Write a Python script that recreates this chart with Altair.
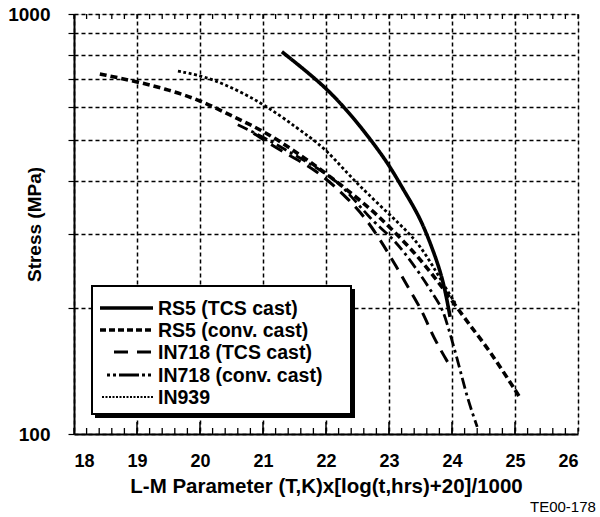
import altair as alt
import pandas as pd

# ---------------- data ----------------
series_names = ["RS5 (TCS cast)", "RS5 (conv. cast)", "IN718 (TCS cast)",
                "IN718 (conv. cast)", "IN939"]

rs5_tcs_x = [21.30, 21.96, 22.33, 22.59, 22.99, 23.23, 23.49, 23.70, 23.86, 23.97]
rs5_tcs_y = [813, 678, 590, 530, 441, 381, 329, 274, 233, 190]

rs5_conv_x = [18.41, 19.0, 19.5, 20.0, 20.5, 21.0, 21.5, 22.0, 22.7, 23.0, 23.5, 24.02, 24.3, 24.6, 25.08]
rs5_conv_y = [720, 690, 660, 624, 572, 528, 472, 418, 345, 312, 262, 206, 180, 158, 122]

in718_tcs_x = [20.85, 21.3, 21.86, 22.38, 22.65, 22.86, 23.10, 23.33, 23.54, 23.70, 23.97]
in718_tcs_y = [520, 470, 425, 360, 323, 290, 253, 220, 195, 170, 145]

in718_conv_x = [20.6, 21.0, 21.5, 22.0, 22.3, 22.7, 23.0, 23.22, 23.54, 23.7, 23.84, 23.93, 24.1, 24.24, 24.4]
in718_conv_y = [545, 510, 462, 418, 385, 325, 298, 274, 235, 215, 200, 182, 148, 122, 104]

in939_x = [19.65, 20.2, 21.0, 21.54, 21.94, 22.22, 22.46, 22.65, 22.97, 23.22, 23.49, 23.76, 23.92, 24.05]
in939_y = [731, 705, 614, 535, 485, 437, 400, 375, 337, 311, 282, 242, 220, 205]

x_ticks = [18, 19, 20, 21, 22, 23, 24, 25, 26]
y_ticks = [100, 200, 300, 400, 500, 600, 700, 800, 900, 1000]
minor_x_ticks = [round(18 + 0.2 * i, 1) for i in range(41)]

# ---------------- styles ----------------
dashes = {
    "RS5 (TCS cast)": [1, 0],
    "RS5 (conv. cast)": [7, 4],
    "IN718 (TCS cast)": [13, 8],
    "IN718 (conv. cast)": [11, 4, 3, 4],
    "IN939": [3, 2.5],
}
widths = {
    "RS5 (TCS cast)": 3.6,
    "RS5 (conv. cast)": 3.6,
    "IN718 (TCS cast)": 3.0,
    "IN718 (conv. cast)": 2.8,
    "IN939": 2.8,
}
legend_dash = {
    "RS5 (TCS cast)": [1, 0],
    "RS5 (conv. cast)": [6, 3],
    "IN718 (TCS cast)": [14, 9],
    "IN718 (conv. cast)": [3, 3, 3, 3, 20, 3],
    "IN939": [2, 1.5],
}
legend_width = {
    "RS5 (TCS cast)": 3.6,
    "RS5 (conv. cast)": 3.6,
    "IN718 (TCS cast)": 3.0,
    "IN718 (conv. cast)": 2.8,
    "IN939": 2.2,
}
legend_x1 = {"RS5 (TCS cast)": 26, "RS5 (conv. cast)": 26, "IN718 (TCS cast)": 40,
             "IN718 (conv. cast)": 33, "IN939": 28}

FONT = "Liberation Sans"

xs = [rs5_tcs_x, rs5_conv_x, in718_tcs_x, in718_conv_x, in939_x]
ys = [rs5_tcs_y, rs5_conv_y, in718_tcs_y, in718_conv_y, in939_y]

xscale = alt.Scale(domain=[18, 26], nice=False, zero=False)
yscale = alt.Scale(type="log", domain=[100, 1000], nice=False)

xaxis = alt.Axis(
    values=x_ticks, format="d", title="L-M Parameter (T,K)x[log(t,hrs)+20]/1000",
    grid=True, gridDash=[4, 3], gridColor="black", gridWidth=1.5, gridOpacity=1,
    ticks=False, tickSize=0, labelPadding=18, labelFontSize=18, labelFontWeight="bold",
    labelFont=FONT, labelColor="black", titleFont=FONT, titleFontSize=20.5,
    titleFontWeight="bold", titleColor="black", titleY=52, titleBaseline="middle",
    domainColor="black", domainWidth=2,
)
yaxis = alt.Axis(
    values=y_ticks, format="d", title="Stress (MPa)",
    labelExpr="(datum.value == 100 || datum.value == 1000) ? datum.label : ''",
    grid=True, gridDash=[4, 3], gridColor="black", gridWidth=1.5, gridOpacity=1,
    ticks=True, tickSize=6, tickColor="black", tickWidth=1.2, labelPadding=18,
    labelFontSize=19, labelFontWeight="bold", labelFont=FONT, labelColor="black",
    titleFont=FONT, titleFontSize=19, titleFontWeight="bold", titleColor="black",
    titleX=-40, titleY=210, titleAngle=270, titleAlign="center", titleBaseline="middle",
    domainColor="black", domainWidth=2,
)

layers = []
for name, sx, sy in zip(series_names, xs, ys):
    df = pd.DataFrame({"x": sx, "y": sy, "series": name})
    layers.append(
        alt.Chart(df).mark_line(
            color="black", strokeDash=dashes[name], strokeWidth=widths[name],
            interpolate="basis", strokeCap="butt"
        ).encode(
            x=alt.X("x:Q", scale=xscale, axis=xaxis),
            y=alt.Y("y:Q", scale=yscale, axis=yaxis),
        )
    )

# inner tick marks on bottom and top axes
tick_df = pd.DataFrame({"x": minor_x_ticks})
major_df = pd.DataFrame({"x": x_ticks[1:-1]})
layers.append(alt.Chart(tick_df).mark_rule(color="black", strokeWidth=1.3).encode(
    x=alt.X("x:Q", scale=xscale, axis=xaxis), y=alt.value(420), y2=alt.value(414)))
layers.append(alt.Chart(major_df).mark_rule(color="black", strokeWidth=1.5).encode(
    x=alt.X("x:Q", scale=xscale, axis=xaxis), y=alt.value(420), y2=alt.value(408)))
layers.append(alt.Chart(tick_df).mark_rule(color="black", strokeWidth=1.3).encode(
    x=alt.X("x:Q", scale=xscale, axis=xaxis), y=alt.value(0), y2=alt.value(5)))

one = pd.DataFrame({"a": [0]})

# legend box with heavy shadow edge
layers.append(alt.Chart(one).mark_rect(color="black").encode(
    x=alt.value(21), x2=alt.value(281), y=alt.value(275), y2=alt.value(404)))
layers.append(alt.Chart(one).mark_rect(fill="white", stroke="black", strokeWidth=2).encode(
    x=alt.value(18), x2=alt.value(277), y=alt.value(272), y2=alt.value(400)))

row_y = [294, 316, 338, 361, 383]
for name, ry in zip(series_names, row_y):
    layers.append(alt.Chart(one).mark_rule(
        color="black", strokeDash=legend_dash[name], strokeWidth=legend_width[name], strokeCap="butt"
    ).encode(x=alt.value(legend_x1[name]), x2=alt.value(79), y=alt.value(ry)))
    layers.append(alt.Chart(pd.DataFrame({"label": [name]})).mark_text(
        align="left", baseline="middle", font=FONT, fontSize=19.5, fontWeight="bold", color="black"
    ).encode(x=alt.value(84), y=alt.value(ry + 1), text="label:N"))

# figure code at bottom right
layers.append(alt.Chart(pd.DataFrame({"label": ["TE00-178"]})).mark_text(
    align="left", baseline="middle", font=FONT, fontSize=15, color="black"
).encode(x=alt.value(456), y=alt.value(493), text="label:N"))

chart = alt.layer(*layers).properties(
    width=504, height=420,
    autosize=alt.AutoSizeParams(type="none"),
    padding={"left": 74, "top": 14, "right": 22, "bottom": 83},
).configure_view(stroke="black", strokeWidth=2).configure(background="white")

chart.save("out.html", embed_options={"renderer": "svg", "actions": False})
